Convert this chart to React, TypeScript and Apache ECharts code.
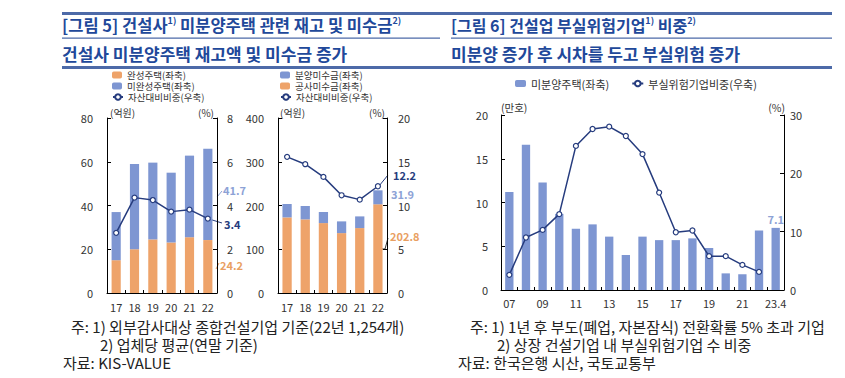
import React, { useEffect, useRef } from 'react';
import * as echarts from 'echarts';

// ---------- data ----------
const years1 = ['17', '18', '19', '20', '21', '22'];
const completedHouses = [15.0, 20.0, 24.5, 23.1, 25.5, 24.2]; // 완성주택 (억원)
const uncompletedHouses = [22.0, 39.0, 35.1, 31.9, 37.3, 41.7]; // 미완성주택 (억원)
const assetRatio1 = [2.75, 4.36, 4.25, 3.72, 3.81, 3.4]; // 자산대비비중 (%)

const constructionRecv = [172.8, 168.3, 159.8, 136.9, 148.4, 202.8]; // 공사미수금 (억원)
const saleRecv = [30.6, 30.6, 25.3, 26.8, 26.7, 31.9]; // 분양미수금 (억원)
const assetRatio2 = [15.56, 14.72, 13.27, 11.17, 10.67, 12.2]; // 자산대비비중 (%)

const years3 = ['07', '08', '09', '10', '11', '12', '13', '14', '15', '16', '17', '18', '19', '20', '21', '22', '23.4'];
const unsoldHouses = [11.2, 16.6, 12.3, 8.7, 7.0, 7.5, 6.1, 4.0, 6.1, 5.7, 5.7, 5.9, 4.8, 1.9, 1.8, 6.8, 7.1]; // 만호
const riskFirmShare = [2.6, 9.0, 10.3, 13.0, 24.7, 27.6, 28.0, 26.4, 23.3, 16.7, 9.9, 10.2, 5.8, 5.8, 4.3, 3.1, null]; // %

const legend1 = ['완성주택(좌축)', '미완성주택(좌축)', '자산대비비중(우축)'];
const legend2 = ['분양미수금(좌축)', '공사미수금(좌축)', '자산대비비중(우축)'];
const legend3 = ['미분양주택(좌축)', '부실위험기업비중(우축)'];

const leftTicks1 = { min: 0, max: 80, interval: 20 };
const rightTicks1 = { min: 0, max: 8, interval: 2 };
const leftTicks2 = { min: 0, max: 400, interval: 100 };
const rightTicks2 = { min: 0, max: 20, interval: 5 };
const leftTicks3 = { min: 0, max: 20, interval: 5 };
const rightTicks3 = { min: 0, max: 30, interval: 10 };

// ---------- styles ----------
const FONT = '"Noto Sans CJK KR", "Noto Sans", sans-serif';
const ORANGE = '#EEA36A';
const BLUE = '#7E96D2';
const NAVY = '#263C7E';
const LIGHT = '#8DA2D6';
const ORANGE_T = '#E99F62';
const TITLE = '#21489A';
const RULE = '#4D6AA8';
const TXT = '#333';

function valAxis(gridIndex: number, t: any, position: string, margin: number) {
  return {
    type: 'value',
    gridIndex,
    min: t.min,
    max: t.max,
    interval: t.interval,
    position,
    axisLine: { show: true, lineStyle: { color: '#000', width: 1 } },
    axisTick: { show: true, inside: true, length: 4, lineStyle: { color: '#000' } },
    axisLabel: { color: TXT, fontSize: 11, fontFamily: FONT, margin },
    splitLine: { show: false },
  };
}

function catAxis(gridIndex: number, data: string[], labelInterval: number, margin: number) {
  return {
    type: 'category',
    gridIndex,
    data,
    boundaryGap: true,
    axisLine: { show: true, lineStyle: { color: '#000', width: 1 } },
    axisTick: { show: true, inside: true, length: 3, interval: 0, alignWithLabel: false, lineStyle: { color: '#000' } },
    axisLabel: { color: TXT, fontSize: 11, fontFamily: FONT, interval: labelInterval, margin },
  };
}

const lineSeriesStyle = {
  type: 'line',
  symbol: 'circle',
  symbolSize: 5,
  lineStyle: { color: NAVY, width: 1.5 },
  itemStyle: { color: '#fff', borderColor: NAVY, borderWidth: 1.2 },
};

function txt(text: string, x: number, y: number, opts: any = {}) {
  return {
    type: 'text',
    x,
    y,
    silent: true,
    style: {
      text,
      fontFamily: FONT,
      fontSize: opts.fontSize ?? 11,
      fontWeight: opts.fontWeight ?? 'normal',
      fill: opts.fill ?? TXT,
      align: opts.align ?? 'left',
      verticalAlign: 'middle',
      rich: opts.rich,
    },
  };
}

function ln(x1: number, y1: number, x2: number, y2: number, color: string) {
  return { type: 'line', silent: true, shape: { x1, y1, x2, y2 }, style: { stroke: color, lineWidth: 1 } };
}

const supRich = {
  s: { fontSize: 9, fontWeight: 'bold', fill: TITLE, fontFamily: FONT, verticalAlign: 'top', lineHeight: 18 },
};

// one single-row legend per line so that row spacing is exact
function legendRow(name: string, left: number, centerY: number) {
  return {
    orient: 'horizontal',
    left,
    top: centerY - 5,
    itemWidth: 10,
    itemHeight: 7,
    padding: 0,
    textStyle: { color: TXT, fontSize: 9.5, fontFamily: FONT, lineHeight: 10 },
    data: [name],
  };
}

const option: any = {
  animation: false,
  backgroundColor: '#fff',
  textStyle: { fontFamily: FONT },
  grid: [
    { left: 107, top: 118, width: 110, height: 175 },
    { left: 278, top: 118, width: 109, height: 175 },
    { left: 501, top: 115, width: 283, height: 175 },
  ],
  legend: [
    ...legend1.map((n, i) => legendRow(n, 112, 75 + i * 11)),
    ...legend2.map((n, i) => legendRow(n, 280, 75 + i * 11)),
    {
      orient: 'horizontal',
      left: 515,
      top: 78,
      itemGap: 22,
      itemWidth: 11,
      itemHeight: 7,
      padding: 0,
      textStyle: { color: TXT, fontSize: 11, fontFamily: FONT },
      data: legend3,
    },
  ],
  xAxis: [catAxis(0, years1, 0, 8), catAxis(1, years1, 0, 8), catAxis(2, years3, 1, 7)],
  yAxis: [
    valAxis(0, leftTicks1, 'left', 14),
    valAxis(0, rightTicks1, 'right', 10),
    valAxis(1, leftTicks2, 'left', 14),
    valAxis(1, rightTicks2, 'right', 11),
    valAxis(2, leftTicks3, 'left', 13),
    valAxis(2, rightTicks3, 'right', 6),
  ],
  series: [
    { name: legend1[0], type: 'bar', stack: 'p1', xAxisIndex: 0, yAxisIndex: 0, barWidth: '50%', itemStyle: { color: ORANGE }, data: completedHouses },
    { name: legend1[1], type: 'bar', stack: 'p1', xAxisIndex: 0, yAxisIndex: 0, barWidth: '50%', itemStyle: { color: BLUE }, data: uncompletedHouses },
    { ...lineSeriesStyle, name: legend1[2], xAxisIndex: 0, yAxisIndex: 1, z: 5, data: assetRatio1 },

    { name: legend2[1], type: 'bar', stack: 'p2', xAxisIndex: 1, yAxisIndex: 2, barWidth: '51%', itemStyle: { color: ORANGE }, data: constructionRecv },
    { name: legend2[0], type: 'bar', stack: 'p2', xAxisIndex: 1, yAxisIndex: 2, barWidth: '51%', itemStyle: { color: BLUE }, data: saleRecv },
    { ...lineSeriesStyle, name: legend2[2], xAxisIndex: 1, yAxisIndex: 3, z: 5, data: assetRatio2 },

    {
      name: legend3[0],
      type: 'bar',
      xAxisIndex: 2,
      yAxisIndex: 4,
      barWidth: '50%',
      itemStyle: { color: BLUE },
      data: unsoldHouses.map((v, i) =>
        i === unsoldHouses.length - 1
          ? { value: v, label: { show: true, position: 'top', distance: 3, color: LIGHT, fontWeight: 'bold', fontSize: 11, fontFamily: FONT } }
          : v
      ),
    },
    { ...lineSeriesStyle, name: legend3[1], xAxisIndex: 2, yAxisIndex: 5, z: 5, data: riskFirmShare },
  ],
  graphic: [
    // header rules
    { type: 'rect', silent: true, shape: { x: 62, y: 12, width: 770, height: 3 }, style: { fill: RULE } },
    { type: 'rect', silent: true, shape: { x: 62, y: 37.5, width: 378, height: 1.3 }, style: { fill: RULE } },
    { type: 'rect', silent: true, shape: { x: 451, y: 37.5, width: 381, height: 1.3 }, style: { fill: RULE } },
    { type: 'rect', silent: true, shape: { x: 62, y: 66, width: 770, height: 3 }, style: { fill: RULE } },
    // titles
    txt('[그림 5] 건설사{s|1)} 미분양주택 관련 재고 및 미수금{s|2)}', 62, 25, { fontSize: 16.5, fontWeight: 'bold', fill: TITLE, rich: supRich }),
    txt('건설사 미분양주택 재고액 및 미수금 증가', 62, 53, { fontSize: 17, fontWeight: 'bold', fill: TITLE }),
    txt('[그림 6] 건설업 부실위험기업{s|1)} 비중{s|2)}', 451, 25, { fontSize: 16, fontWeight: 'bold', fill: TITLE, rich: supRich }),
    txt('미분양 증가 후 시차를 두고 부실위험 증가', 451, 53, { fontSize: 17, fontWeight: 'bold', fill: TITLE }),
    // unit labels
    txt('(억원)', 110, 112, { fontSize: 10 }),
    txt('(%)', 214, 112, { fontSize: 10, align: 'right' }),
    txt('(억원)', 280, 112, { fontSize: 10 }),
    txt('(%)', 385, 112, { fontSize: 10, align: 'right' }),
    txt('(만호)', 501, 107, { fontSize: 10.5 }),
    txt('(%)', 785, 107, { fontSize: 10.5, align: 'right' }),
    // annotations panel 1
    ln(217, 197, 222, 191, LIGHT),
    txt(String(uncompletedHouses[5]), 223, 190, { fontWeight: 'bold', fill: LIGHT }),
    ln(209, 219, 222, 223, NAVY),
    txt(String(assetRatio1[5]), 224, 224, { fontWeight: 'bold', fill: NAVY }),
    ln(216, 269, 219, 263, ORANGE_T),
    txt(String(completedHouses[5]), 220, 265, { fontWeight: 'bold', fill: ORANGE_T }),
    // annotations panel 2
    ln(379, 186, 388, 175, NAVY),
    txt(String(assetRatio2[5]), 393, 175, { fontWeight: 'bold', fill: NAVY }),
    txt(String(saleRecv[5]), 391, 194, { fontWeight: 'bold', fill: LIGHT }),
    { type: 'polyline', silent: true, shape: { points: [[382, 249], [385, 249], [388, 238]] }, style: { stroke: '#333', lineWidth: 1, fill: null } },
    txt(String(constructionRecv[5]), 390, 236, { fontWeight: 'bold', fill: ORANGE_T }),
    // footnotes
    txt('주: 1) 외부감사대상 종합건설기업 기준(22년 1,254개)', 71, 326, { fontSize: 15, fill: '#222' }),
    txt('2) 업체당 평균(연말 기준)', 100, 344, { fontSize: 15, fill: '#222' }),
    txt('자료: KIS-VALUE', 63, 362, { fontSize: 15, fill: '#222' }),
    txt('주: 1) 1년 후 부도(폐업, 자본잠식) 전환확률 5% 초과 기업', 470, 326, { fontSize: 15, fill: '#222' }),
    txt('2) 상장 건설기업 내 부실위험기업 수 비중', 497, 344, { fontSize: 15, fill: '#222' }),
    txt('자료: 한국은행 시산, 국토교통부', 458, 362, { fontSize: 15, fill: '#222' }),
  ],
};

export default function App() {
  const ref = useRef<HTMLDivElement>(null);
  useEffect(() => {
    document.body.style.margin = '0';
    const chart = echarts.init(ref.current!, undefined, { renderer: 'svg' });
    chart.setOption(option);
    return () => chart.dispose();
  }, []);
  return <div ref={ref} style={{ width: 845, height: 378, background: '#fff' }} />;
}
